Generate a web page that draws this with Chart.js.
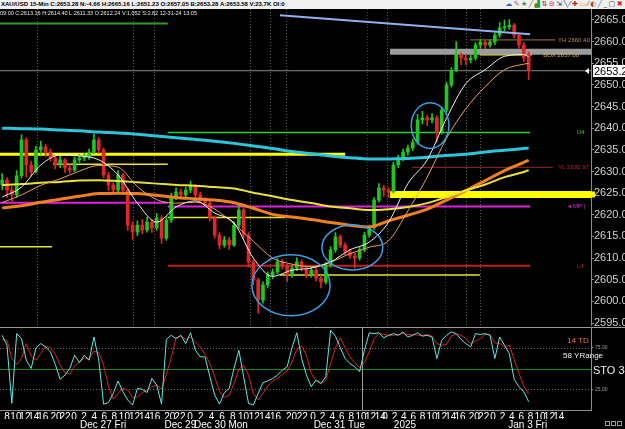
<!DOCTYPE html>
<html>
<head>
<meta charset="utf-8">
<script src="https://cdn.jsdelivr.net/npm/chart.js@4.4.1/dist/chart.umd.min.js"></script>
<style>
  html, body { margin: 0; padding: 0; background: #000; }
  body { width: 625px; height: 429px; position: relative; overflow: hidden; font-family: 'Liberation Sans', Arial, sans-serif; }
  #bar { position: absolute; left: 0; top: 0; width: 625px; height: 9px; background: #f0f0f0; color: #000;
         font: bold 6px 'Liberation Sans'; line-height: 9px; white-space: nowrap; padding-left: 1px; box-sizing: border-box; }
  #bar .tools { position: absolute; right: 1px; top: 0; font: 7px 'DejaVu Sans'; line-height: 9px; letter-spacing: 1.5px; }
  #info { position: absolute; left: 0; top: 10px; color: #e8e8e8; font: 5.5px 'Liberation Sans'; white-space: nowrap; z-index: 2; }
  canvas { position: absolute; left: 0; }
  #main { top: 9px; }
  #sto { top: 327px; }
  #boxes { position: absolute; left: 605px; top: 412px; z-index: 2; }
  #boxes span { display: inline-block; width: 3px; height: 3px; border: 1px solid #9a9a9a; margin-right: 1px; }
</style>
</head>
<body>
<div id="bar">XAU/USD 15-Min C:2653.28 N:-4.66 H:2665.16 L:2651.23 O:2657.05 B:2653.28 A:2653.58 V:23.7K OI:0
  <span class="tools"><span style="color:#3c6cb4">&#9729;</span><span style="color:#b04090">&#9998;</span><span style="color:#2a9a2a">&#9733;</span><span style="color:#d03030">&#9585;</span><span style="color:#2a9a2a">&#9631;</span><span style="color:#c02020">&#8645;</span><span style="color:#c02020">&#8861;</span><span style="color:#303030">&#8690;</span><span style="color:#303080">&#9586;</span><span style="color:#303080">&#8260;</span><span style="color:#c02020">&#10010;</span><span style="color:#d0b000">&#9645;</span><span style="color:#303080">&#8260;</span><span style="color:#b04010">&#9680;</span><span style="color:#2a6ad0">&#9585;</span><span style="color:#404040">_</span><span style="color:#404040">&#9634;</span><span style="color:#d02020">&#10006;</span></span>
</div>
<div id="info">09:00 C:2613.16 H:2614.40 L:2611.33 O:2612.24 V:1,052 S:2.82 12-31-24 13:05</div>
<canvas id="main" width="625" height="317"></canvas>
<canvas id="sto" width="625" height="102"></canvas>
<div id="boxes"><span></span><span></span><span></span><span></span></div>

<script>
// ---- price bars (one bar per index) ----
const barOpen = [
  2627.0, 2628.0, 2625.7, 2624.6, 2629.0, 2637.3, 2631.5, 2630.0, 2635.0, 2635.7,
  2634.5, 2633.1, 2631.5, 2632.7, 2630.8, 2630.3, 2632.7, 2633.1, 2633.4, 2634.5,
  2637.3, 2635.0, 2629.2, 2626.9, 2625.7, 2629.2, 2625.7, 2617.6, 2616.0, 2617.6,
  2616.5, 2618.3, 2617.0, 2619.3, 2614.6, 2618.8, 2624.3, 2625.3, 2624.6, 2625.7,
  2626.6, 2624.6, 2623.4, 2622.7, 2619.3, 2615.3, 2613.0, 2614.2, 2613.0, 2617.6,
  2621.1, 2615.3, 2609.1, 2604.9, 2600.3, 2603.8, 2606.1, 2606.8, 2609.1, 2608.2,
  2606.1, 2607.7, 2609.1, 2607.7, 2606.1, 2607.2, 2605.4, 2604.5, 2608.4, 2611.9,
  2614.9, 2613.0, 2611.4, 2610.5, 2610.0, 2611.9, 2615.3, 2617.0, 2623.4, 2626.2,
  2625.7, 2625.3, 2631.5, 2633.1, 2634.5, 2635.4, 2636.8, 2641.9, 2642.4, 2641.9,
  2642.4, 2639.1, 2644.2, 2650.0, 2653.4, 2656.9, 2656.2, 2655.8, 2656.2, 2659.2,
  2659.9, 2659.2, 2659.9, 2661.5, 2663.2, 2663.4, 2663.8, 2661.5, 2659.2, 2657.1
];
const barHigh = [
  2629.5, 2628.6, 2626.5, 2630.2, 2638.5, 2637.8, 2632.4, 2635.9, 2637.0, 2636.3,
  2635.2, 2633.6, 2633.5, 2633.0, 2631.6, 2633.4, 2634.0, 2634.2, 2635.2, 2638.6,
  2637.9, 2635.4, 2629.8, 2627.4, 2630.2, 2629.6, 2626.1, 2618.4, 2618.6, 2618.9,
  2619.4, 2619.0, 2620.3, 2619.8, 2619.6, 2625.0, 2626.2, 2626.0, 2626.4, 2627.8,
  2627.0, 2625.2, 2624.0, 2623.1, 2619.8, 2616.0, 2615.0, 2614.8, 2618.4, 2622.3,
  2621.7, 2615.9, 2609.6, 2605.3, 2604.5, 2606.8, 2607.5, 2609.9, 2609.7, 2608.6,
  2608.3, 2610.1, 2609.6, 2608.2, 2608.0, 2607.8, 2606.0, 2609.0, 2612.6, 2615.9,
  2615.4, 2613.6, 2612.0, 2611.2, 2612.5, 2616.0, 2617.6, 2624.0, 2627.2, 2626.8,
  2626.3, 2632.2, 2633.8, 2635.2, 2636.1, 2637.5, 2643.2, 2643.9, 2643.0, 2643.4,
  2642.9, 2644.8, 2650.6, 2654.0, 2660.0, 2657.4, 2657.0, 2657.0, 2659.8, 2660.6,
  2660.4, 2660.5, 2662.0, 2664.4, 2665.0, 2665.1, 2664.2, 2662.0, 2659.8, 2657.6
];
const barLow = [
  2625.8, 2624.0, 2622.8, 2624.0, 2628.5, 2628.7, 2628.9, 2629.6, 2634.0, 2633.4,
  2632.4, 2630.6, 2630.9, 2629.8, 2629.6, 2630.0, 2632.1, 2632.5, 2632.8, 2634.1,
  2634.2, 2628.6, 2625.6, 2624.8, 2625.2, 2624.9, 2616.4, 2614.3, 2615.2, 2615.6,
  2616.0, 2615.9, 2616.4, 2613.4, 2614.1, 2618.2, 2623.5, 2623.8, 2624.0, 2625.1,
  2624.0, 2622.8, 2621.9, 2618.6, 2614.6, 2612.1, 2612.5, 2612.0, 2612.7, 2617.1,
  2614.6, 2607.9, 2603.8, 2597.3, 2599.6, 2603.2, 2605.2, 2606.3, 2607.5, 2604.6,
  2605.6, 2607.1, 2607.0, 2605.4, 2605.6, 2604.7, 2603.1, 2604.0, 2607.9, 2611.3,
  2612.4, 2610.8, 2609.9, 2607.7, 2609.5, 2611.4, 2614.8, 2616.6, 2622.9, 2624.2,
  2624.0, 2625.0, 2630.9, 2632.5, 2633.8, 2634.8, 2636.3, 2641.0, 2640.6, 2641.2,
  2636.8, 2638.6, 2643.7, 2649.5, 2653.0, 2654.7, 2654.6, 2655.1, 2655.7, 2658.5,
  2658.4, 2658.7, 2659.3, 2661.0, 2662.5, 2662.8, 2660.8, 2658.5, 2655.4, 2651.2
];
const barClose = [
  2628.0, 2625.7, 2624.6, 2629.0, 2637.3, 2631.5, 2630.0, 2635.0, 2635.7, 2634.5,
  2633.1, 2631.5, 2632.7, 2630.8, 2630.3, 2632.7, 2633.1, 2633.4, 2634.5, 2637.3,
  2635.0, 2629.2, 2626.9, 2625.7, 2629.2, 2625.7, 2617.6, 2616.0, 2617.6, 2616.5,
  2618.3, 2617.0, 2619.3, 2614.6, 2618.8, 2624.3, 2625.3, 2624.6, 2625.7, 2626.6,
  2624.6, 2623.4, 2622.7, 2619.3, 2615.3, 2613.0, 2614.2, 2613.0, 2617.6, 2621.1,
  2615.3, 2609.1, 2604.9, 2600.3, 2603.8, 2606.1, 2606.8, 2609.1, 2608.2, 2606.1,
  2607.7, 2609.1, 2607.7, 2606.1, 2607.2, 2605.4, 2604.5, 2608.4, 2611.9, 2614.9,
  2613.0, 2611.4, 2610.5, 2610.0, 2611.9, 2615.3, 2617.0, 2623.4, 2626.2, 2625.7,
  2625.3, 2631.5, 2633.1, 2634.5, 2635.4, 2636.8, 2641.9, 2642.4, 2641.9, 2642.4,
  2639.1, 2644.2, 2650.0, 2653.4, 2656.9, 2656.2, 2655.8, 2656.2, 2659.2, 2659.9,
  2659.2, 2659.9, 2661.5, 2663.2, 2663.4, 2663.8, 2661.5, 2659.2, 2656.2, 2653.28
];

// ---- moving averages, sampled every 4 bars ----
const maIndex  = [0, 4, 8, 12, 16, 20, 24, 28, 32, 36, 40, 44, 48, 52, 56, 60, 64, 68, 72, 76, 80, 84, 88, 92, 96, 100, 104, 108, 109];
const maCyan   = [2640.0, 2639.9, 2639.8, 2639.6, 2639.4, 2639.1, 2638.9, 2638.6, 2638.2, 2637.8, 2637.4, 2637.0, 2636.5, 2635.9, 2635.3, 2634.6, 2634.1, 2633.6, 2633.2, 2632.9, 2632.9, 2633.0, 2633.3, 2633.7, 2634.0, 2634.5, 2634.9, 2635.3, 2635.4];
const maOrange = [2621.6, 2622.1, 2622.9, 2623.6, 2624.3, 2624.9, 2625.0, 2624.9, 2624.5, 2624.0, 2623.7, 2623.4, 2622.8, 2621.5, 2620.1, 2619.5, 2618.9, 2618.2, 2617.6, 2617.2, 2618.6, 2619.9, 2621.3, 2623.4, 2625.6, 2627.9, 2630.2, 2632.1, 2632.6];
const maYellow = [2626.9, 2627.1, 2627.4, 2627.6, 2627.9, 2628.0, 2627.8, 2627.5, 2627.2, 2626.9, 2626.7, 2626.4, 2626.1, 2625.1, 2624.3, 2623.4, 2622.7, 2621.9, 2621.5, 2621.1, 2621.3, 2621.8, 2622.7, 2624.1, 2625.6, 2627.0, 2628.7, 2629.9, 2630.3];
const maTan    = [2622.8, 2624.6, 2626.8, 2628.3, 2630.1, 2631.4, 2631.0, 2626.5, 2623.5, 2622.7, 2622.9, 2621.3, 2617.9, 2613.9, 2610.0, 2608.6, 2608.0, 2609.1, 2611.0, 2612.5, 2614.0, 2620.9, 2628.7, 2637.7, 2644.5, 2649.6, 2653.5, 2654.8, 2655.0];
const maWhite  = [2624.1, 2626.4, 2631.5, 2633.8, 2633.6, 2632.7, 2629.2, 2622.7, 2618.3, 2621.8, 2623.2, 2620.4, 2618.1, 2610.0, 2605.8, 2607.2, 2607.7, 2609.1, 2611.9, 2613.7, 2618.3, 2627.2, 2632.7, 2642.3, 2650.3, 2653.5, 2656.6, 2657.0, 2656.5];

// ---- stochastic (34) %K and %D ----
const stoK = [
  90, 78, 8, 92, 86, 60, 50, 75, 80, 76,
  70, 55, 37, 42, 50, 66, 57, 66, 60, 88,
  60, 7, 9, 20, 35, 22, 12, 6, 26, 25,
  21, 38, 30, 7, 85, 90, 86, 90, 80, 93,
  72, 64, 64, 40, 18, 7, 21, 26, 50, 72,
  40, 8, 6, 20, 33, 35, 38, 42, 48, 52,
  75, 93, 62, 42, 28, 36, 32, 40, 96, 89,
  75, 62, 56, 52, 46, 72, 93, 92, 93, 87,
  90, 92, 90, 94, 88, 90, 93, 89, 90, 88,
  62, 84, 90, 94, 92, 85, 80, 76, 92, 91,
  92, 90, 62, 88, 78, 68, 37, 28, 22, 10
];
const stoD = [
  85, 84, 62, 55, 62, 80, 65, 60, 68, 77,
  75, 67, 54, 45, 43, 53, 58, 63, 61, 71,
  69, 54, 29, 13, 20, 26, 24, 15, 16, 21,
  24, 28, 30, 25, 43, 63, 87, 89, 85, 88,
  82, 76, 67, 56, 40, 22, 15, 18, 32, 49,
  54, 42, 20, 12, 20, 29, 35, 38, 43, 47,
  58, 73, 77, 66, 44, 35, 32, 36, 56, 75,
  87, 75, 64, 57, 51, 57, 70, 86, 92, 91,
  90, 90, 91, 92, 91, 91, 90, 90, 91, 89,
  80, 78, 79, 89, 92, 90, 86, 80, 83, 86,
  91, 91, 81, 80, 76, 78, 61, 44, 29, 19
];

// ---- horizontal levels: price, first bar, last bar ----
const levelPrice = [2664.2, 2653.28, 2639.0, 2634.0, 2631.7, 2612.6, 2622.8, 2621.9, 2619.4, 2608.2, 2606.1, 2630.97, 2660.40, 2657.0, 2657.65, 2624.7];
const levelFrom  = [-0.5, -0.5, 34.3, -0.5, 10.5, -0.5, -0.5, 34.3, 34.3, 34.3, 57.5, 84.9, 96.9, 98.9, 80.3, 80.3];
const levelTo    = [34.3, 122, 109.3, 71, 34.3, 10.3, 34.3, 109.3, 58.6, 109.3, 98.9, 114, 114.5, 109.7, 122, 122];

// descending trendline
const trendIndex = [57.5, 109.3];
const trendPrice = [2666.1, 2661.7];

// circled areas: centre bar, centre price, half width (bars), half height (price)
const circleIndex = [59.8, 72.5, 88.6];
const circlePrice = [2603.7, 2612.45, 2640.6];
const circleHalfW = [8.1, 6.3, 3.9];
const circleHalfH = [7.05, 5.2, 5.3];

// session markers
const sessionMarks = [7.2, 27.1, 31.4, 51.3, 55.5, 58.8, 75.5, 79.7, 91.7, 96, 98.9];
const sessionRed = [75.5, 91.7];

const priceTicks = [2595, 2600, 2605, 2610, 2615, 2620, 2625, 2630, 2635, 2640, 2645, 2650, 2655, 2660, 2665];

// ---- time axis labels ----
const hourTickAt = [
  1, 2.84, 4.71, 6.55, 8.39, 11.17, 13.03,
  14.87, 16.96, 19.05, 21.15, 23.22, 25.31, 27.4, 29.49, 31.58, 34.71, 36.8,
  38.89, 41.1, 43.32, 45.53, 47.75, 49.96, 52.18, 54.39, 56.61, 59.92, 62.14,
  64.35, 66.34, 68.33, 70.32, 72.3, 74.29, 76.28, 78.27,
  79.26, 81.21, 83.15, 85.1, 87.04, 88.99, 90.94, 92.86, 94.81, 97.73, 99.68,
  101.62, 103.57, 105.51, 107.46, 109.41, 111.35, 113.3, 115.22
];
const hourTickText = [
  '8', '10', '12', '14', '16', '20', '22',
  '0', '2', '4', '6', '8', '10', '12', '14', '16', '20', '22',
  '0', '2', '4', '6', '8', '10', '12', '14', '16', '20', '22',
  '0', '2', '4', '6', '8', '10', '12', '14',
  '0', '2', '4', '6', '8', '10', '12', '14', '16', '20', '22',
  '0', '2', '4', '6', '8', '10', '12', '14'
];
const dateTickAt = [20.9, 36.9, 45.3, 69.8, 83.4, 108.8];
const dateTickText = ['Dec 27 Fri', 'Dec 29', 'Dec 30 Mon', 'Dec 31 Tue', '2025', 'Jan 3 Fri'];

const X_MIN = -0.449, X_MAX = 121.91;
const FONT = 'Liberation Sans';
Chart.defaults.font.family = FONT;

const lastPrice = barClose[barClose.length - 1];
const candleColor = ctx => barClose[ctx.dataIndex] >= barOpen[ctx.dataIndex] ? '#22c422' : '#e02626';
const pts = (xs, ys) => xs.map((x, i) => ({ x: x, y: ys[i] }));

const levelStyle = [
  ['#2f9a2f', 2], ['#8a8a8a', 1], ['#2ed02e', 1.5], ['#ffff00', 3], ['#e6e630', 1.5], ['#e6e630', 1.5],
  ['#e020e0', 2], ['#e020e0', 2], ['#e6e630', 1.5], ['#c81c1c', 2], ['#e6e630', 1.5], ['#9c2a2a', 1],
  ['#9a7a4a', 1], ['#f0f000', 1.5], ['#9c9c9c', 6], ['#ffff00', 7]
];
const tags = [
  ['YH 2660.40', 2660.4, 115.1, '#b09060'],
  ['BOX 2657.00', 2656.9, 112.0, '#c8b060'],
  ['U4', 2639.0, 119.0, '#2ed02e'],
  ['YL 2630.97', 2630.97, 115.1, '#c02424'],
  ['\u25C2 MP |', 2621.9, 117.2, '#e020e0'],
  ['L4', 2608.2, 119.0, '#c81c1c']
];

const mainDecor = {
  id: 'mainDecor',
  beforeDatasetsDraw(chart) {
    const { ctx, chartArea: a, scales: { x, y } } = chart;
    ctx.save();
    ctx.beginPath();
    ctx.rect(a.left, a.top, a.right - a.left, a.bottom - a.top);
    ctx.clip();
    ctx.lineWidth = 1;
    ctx.setLineDash([1, 2]);
    sessionMarks.forEach(k => {
      const px = Math.round(x.getPixelForValue(k)) + 0.5;
      ctx.strokeStyle = sessionRed.includes(k) ? '#8c2222' : '#5c5c5c';
      ctx.beginPath();
      ctx.moveTo(px, a.top);
      ctx.lineTo(px, a.bottom);
      ctx.stroke();
    });
    ctx.setLineDash([]);
    levelPrice.forEach((p, i) => {
      const py = y.getPixelForValue(p);
      ctx.strokeStyle = levelStyle[i][0];
      ctx.lineWidth = levelStyle[i][1];
      ctx.beginPath();
      ctx.moveTo(x.getPixelForValue(levelFrom[i]), py);
      ctx.lineTo(x.getPixelForValue(levelTo[i]), py);
      ctx.stroke();
    });
    ctx.restore();
  },
  afterDatasetsDraw(chart) {
    const { ctx, scales: { x, y } } = chart;
    ctx.save();
    ctx.strokeStyle = '#3a9ee0';
    ctx.lineWidth = 1.5;
    circleIndex.forEach((k, i) => {
      const cx = x.getPixelForValue(k), cy = y.getPixelForValue(circlePrice[i]);
      const rx = x.getPixelForValue(k + circleHalfW[i]) - cx;
      const ry = cy - y.getPixelForValue(circlePrice[i] + circleHalfH[i]);
      ctx.beginPath();
      ctx.ellipse(cx, cy, rx, ry, 0, 0, Math.PI * 2);
      ctx.stroke();
    });
    ctx.restore();
  },
  afterDraw(chart) {
    const { ctx, chartArea: a, scales: { x, y } } = chart;
    ctx.save();
    ctx.font = '6px ' + FONT;
    ctx.textBaseline = 'middle';
    tags.forEach(t => {
      ctx.fillStyle = t[3];
      ctx.fillText(t[0], x.getPixelForValue(t[2]), y.getPixelForValue(t[1]));
    });
    // yellow band marker on the axis
    const by = y.getPixelForValue(2624.7);
    ctx.fillStyle = '#ffff00';
    ctx.fillRect(a.right, by - 3, 4, 6);
    // current price box
    const py = Math.round(y.getPixelForValue(lastPrice));
    ctx.fillStyle = '#ffffff';
    ctx.fillRect(a.right + 2, py - 6, 40, 12);
    ctx.fillStyle = '#000000';
    ctx.font = '11px ' + FONT;
    ctx.fillText(lastPrice.toFixed(2), a.right + 3, py + 0.5);
    ctx.fillStyle = '#ffffff';
    ctx.beginPath();
    ctx.moveTo(a.right - 6, py);
    ctx.lineTo(a.right - 2, py - 3);
    ctx.lineTo(a.right - 2, py + 3);
    ctx.fill();
    ctx.restore();
  }
};

const maLine = (data, color, width, order) => ({
  type: 'line', data: pts(maIndex, data), borderColor: color, borderWidth: width,
  pointRadius: 0, cubicInterpolationMode: 'monotone', order: order
});

new Chart(document.getElementById('main'), {
  type: 'bar',
  data: {
    datasets: [
      { type: 'line', data: pts(trendIndex, trendPrice), borderColor: '#8fb2ee', borderWidth: 2, pointRadius: 0, order: 6 },
      maLine(maCyan, '#2ac6dc', 3, 5),
      maLine(maOrange, '#f0801e', 3, 4),
      maLine(maYellow, '#e8e23a', 2, 3),
      maLine(maTan, '#e8a064', 1, 2),
      maLine(maWhite, '#f2f2f2', 1, 1),
      { type: 'bar', data: barHigh.map((h, i) => ({ x: i, y: [barLow[i], h] })), backgroundColor: candleColor,
        barThickness: 1, grouped: false, order: 8 },
      { type: 'bar', data: barOpen.map((o, i) => ({ x: i, y: [o, barClose[i]] })), backgroundColor: candleColor,
        barThickness: 3, minBarLength: 1, grouped: false, order: 7 }
    ]
  },
  options: {
    responsive: false, animation: false, devicePixelRatio: 1, events: [],
    layout: { padding: 0, autoPadding: false },
    plugins: { legend: { display: false }, tooltip: { enabled: false } },
    scales: {
      x: { type: 'linear', min: X_MIN, max: X_MAX, bounds: 'data', offset: false, grid: { offset: false }, display: false },
      y: {
        type: 'linear', position: 'right', min: 2594.31, max: 2667.54, bounds: 'data',
        afterBuildTicks: s => { s.ticks = priceTicks.map(v => ({ value: v })); },
        afterFit: s => { s.width = 34; s.paddingTop = 0; s.paddingBottom = 0; },
        ticks: { color: '#d0d0d0', font: { size: 11, family: FONT }, padding: 0, callback: v => v.toFixed(2) },
        grid: { drawOnChartArea: false, color: '#8c8c8c', tickLength: 3 },
        border: { color: '#8c8c8c' }
      }
    }
  },
  plugins: [mainDecor]
});

const stoDecor = {
  id: 'stoDecor',
  beforeDatasetsDraw(chart) {
    const { ctx, chartArea: a, scales: { x, y } } = chart;
    ctx.save();
    ctx.lineWidth = 1;
    ctx.strokeStyle = '#6a6a6a';
    ctx.setLineDash([1, 2]);
    [75, 25].forEach(v => {
      const py = Math.round(y.getPixelForValue(v)) + 0.5;
      ctx.beginPath(); ctx.moveTo(a.left, py); ctx.lineTo(a.right, py); ctx.stroke();
    });
    ctx.setLineDash([]);
    ctx.strokeStyle = '#1e8a1e';
    const gy = Math.round(y.getPixelForValue(50)) + 0.5;
    ctx.beginPath(); ctx.moveTo(a.left, gy); ctx.lineTo(a.right, gy); ctx.stroke();
    ctx.strokeStyle = '#a0a0a0';
    const vx = Math.round(x.getPixelForValue(74.5)) + 0.5;
    ctx.beginPath(); ctx.moveTo(vx, a.top); ctx.lineTo(vx, a.bottom); ctx.stroke();
    ctx.restore();
  },
  afterDraw(chart) {
    const { ctx, chartArea: a, scales: { y } } = chart;
    ctx.save();
    ctx.strokeStyle = '#9a9a9a';
    ctx.lineWidth = 1;
    ctx.beginPath(); ctx.moveTo(0, 0.5); ctx.lineTo(chart.width, 0.5); ctx.stroke();
    ctx.textBaseline = 'middle';
    ctx.font = '8px ' + FONT;
    ctx.fillStyle = '#e0782a';
    ctx.fillText('14 TD', a.right - 24, y.getPixelForValue(83));
    ctx.fillStyle = '#f0f0f0';
    ctx.fillText('58 YRange', a.right - 28, y.getPixelForValue(65));
    ctx.font = '11px ' + FONT;
    ctx.fillText('STO 34', a.right + 2, y.getPixelForValue(47));
    ctx.restore();
  }
};

const barIndex = stoK.map((v, i) => i);

new Chart(document.getElementById('sto'), {
  type: 'line',
  data: {
    datasets: [
      { data: pts(barIndex, stoD), borderColor: '#d82020', borderWidth: 1, pointRadius: 0, order: 2 },
      { data: pts(barIndex, stoK), borderColor: '#5ee8e0', borderWidth: 1, pointRadius: 0, order: 1 }
    ]
  },
  options: {
    responsive: false, animation: false, devicePixelRatio: 1, events: [],
    layout: { padding: 0, autoPadding: false },
    plugins: { legend: { display: false }, tooltip: { enabled: false } },
    scales: {
      x: {
        type: 'linear', position: 'bottom', min: X_MIN, max: X_MAX, bounds: 'data', offset: false,
        afterBuildTicks: s => { s.ticks = hourTickAt.map(v => ({ value: v })); },
        afterFit: s => { s.height = 9; s.paddingLeft = 0; s.paddingRight = 0; },
        ticks: { autoSkip: false, maxRotation: 0, minRotation: 0, color: '#ffffff', padding: 1,
                 font: { size: 10, family: FONT }, callback: (v, i) => hourTickText[i] },
        grid: { display: false, drawTicks: false },
        border: { display: true, color: '#8c8c8c' }
      },
      x2: {
        type: 'linear', axis: 'x', position: 'bottom', min: X_MIN, max: X_MAX, bounds: 'data', offset: false,
        afterBuildTicks: s => { s.ticks = dateTickAt.map(v => ({ value: v })); },
        afterFit: s => { s.height = 10; s.paddingLeft = 0; s.paddingRight = 0; },
        ticks: { autoSkip: false, maxRotation: 0, minRotation: 0, color: '#ffffff', padding: 0,
                 font: { size: 10, family: FONT }, callback: (v, i) => dateTickText[i] },
        grid: { display: false, drawTicks: false },
        border: { display: false }
      },
      y: {
        type: 'linear', position: 'right', min: 0, max: 100, bounds: 'data',
        afterBuildTicks: s => { s.ticks = [75, 25].map(v => ({ value: v })); },
        afterFit: s => { s.width = 34; s.paddingTop = 0; s.paddingBottom = 0; },
        ticks: { color: '#a0a0a0', font: { size: 5, family: FONT }, padding: 2, callback: v => v.toFixed(2) },
        grid: { drawOnChartArea: false, color: '#8c8c8c', tickLength: 2 },
        border: { color: '#8c8c8c' }
      }
    }
  },
  plugins: [stoDecor]
});
</script>
</body>
</html>
